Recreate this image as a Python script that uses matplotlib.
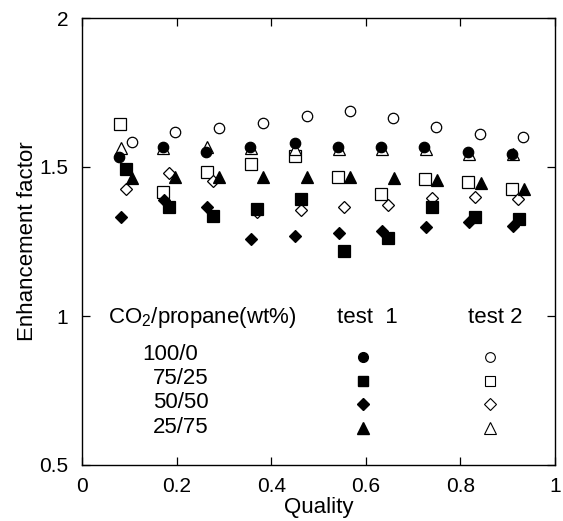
import matplotlib
matplotlib.use("Agg")
import matplotlib.pyplot as plt

plt.rcParams['font.family'] = ['Liberation Sans', 'DejaVu Sans']
plt.rcParams['mathtext.fontset'] = 'custom'
plt.rcParams['mathtext.rm'] = 'Liberation Sans'
plt.rcParams['mathtext.default'] = 'regular'

# ---- data (quality, enhancement factor) ----
t1_100_x = [0.079, 0.172, 0.263, 0.356, 0.450, 0.541, 0.633, 0.724, 0.817, 0.910]
t1_100_y = [1.535, 1.568, 1.551, 1.568, 1.580, 1.568, 1.568, 1.566, 1.551, 1.543]
t2_100_x = [0.105, 0.196, 0.290, 0.382, 0.475, 0.566, 0.657, 0.749, 0.842, 0.933]
t2_100_y = [1.585, 1.618, 1.630, 1.649, 1.671, 1.689, 1.665, 1.633, 1.611, 1.602]

t1_75_x = [0.093, 0.184, 0.277, 0.369, 0.462, 0.554, 0.646, 0.740, 0.830, 0.923]
t1_75_y = [1.493, 1.365, 1.336, 1.359, 1.392, 1.219, 1.263, 1.365, 1.333, 1.325]
t2_75_x = [0.080, 0.172, 0.265, 0.357, 0.450, 0.541, 0.633, 0.726, 0.817, 0.910]
t2_75_y = [1.643, 1.415, 1.484, 1.509, 1.538, 1.467, 1.409, 1.459, 1.449, 1.426]

t1_50_x = [0.082, 0.173, 0.265, 0.358, 0.451, 0.543, 0.635, 0.727, 0.819, 0.911]
t1_50_y = [1.333, 1.389, 1.365, 1.257, 1.268, 1.278, 1.285, 1.298, 1.314, 1.303]
t2_50_x = [0.092, 0.184, 0.276, 0.369, 0.462, 0.553, 0.646, 0.739, 0.830, 0.921]
t2_50_y = [1.425, 1.479, 1.453, 1.348, 1.356, 1.367, 1.372, 1.395, 1.400, 1.392]

t1_25_x = [0.105, 0.196, 0.290, 0.382, 0.475, 0.566, 0.659, 0.750, 0.843, 0.934]
t1_25_y = [1.464, 1.467, 1.467, 1.467, 1.467, 1.465, 1.462, 1.456, 1.447, 1.425]
t2_25_x = [0.082, 0.172, 0.265, 0.358, 0.450, 0.543, 0.635, 0.727, 0.819, 0.911]
t2_25_y = [1.565, 1.565, 1.568, 1.565, 1.559, 1.559, 1.559, 1.559, 1.545, 1.545]

compositions = ['100/0', '75/25', '50/50', '25/75']
markers = ['o', 's', 'D', '^']
msizes = [7.5, 8, 6.5, 9]
legend_msizes = [7, 7.5, 6, 8.5]

x_ticks = [0, 0.2, 0.4, 0.6, 0.8, 1]
x_ticklabels = ['0', '0.2', '0.4', '0.6', '0.8', '1']
y_ticks = [0.5, 1, 1.5, 2]
y_ticklabels = ['0.5', '1', '1.5', '2']

fig = plt.figure(figsize=(5.63, 5.21), dpi=100)
ax = fig.add_axes([82/563, 1-465/521, 473/563, 447/521])

open_series = [(t2_100_x, t2_100_y), (t2_75_x, t2_75_y), (t2_50_x, t2_50_y), (t2_25_x, t2_25_y)]
filled_series = [(t1_100_x, t1_100_y), (t1_75_x, t1_75_y), (t1_50_x, t1_50_y), (t1_25_x, t1_25_y)]

for (xs, ys), m, s in zip(open_series, markers, msizes):
    ax.plot(xs, ys, linestyle='none', marker=m, markersize=s,
            markerfacecolor='white', markeredgecolor='black', markeredgewidth=0.9)
for idx in [2, 1, 3, 0]:
    xs, ys = filled_series[idx]
    ax.plot(xs, ys, linestyle='none', marker=markers[idx], markersize=msizes[idx],
            markerfacecolor='black', markeredgecolor='black', markeredgewidth=0.9)

ax.set_xlim(0, 1)
ax.set_ylim(0.5, 2)
ax.set_xticks(x_ticks)
ax.set_xticklabels(x_ticklabels)
ax.set_yticks(y_ticks)
ax.set_yticklabels(y_ticklabels)
ax.tick_params(direction='in', top=True, right=True, length=6, width=0.9,
               labelsize=15)
ax.tick_params(axis='x', pad=8.5)
ax.tick_params(axis='y', pad=10)
for sp in ax.spines.values():
    sp.set_linewidth(1.0)

ax.set_xlabel('Quality', fontsize=16, labelpad=1)
ax.set_ylabel('Enhancement factor', fontsize=16, labelpad=1)

# ---- in-axes legend ----
tr = ax.transAxes
ax.text(0.055, 0.318, 'CO$_2$/propane(wt%)', transform=tr, fontsize=16, va='baseline', ha='left')
ax.text(0.539, 0.318, 'test  1', transform=tr, fontsize=16, va='baseline', ha='left')
ax.text(0.816, 0.318, 'test 2', transform=tr, fontsize=16, va='baseline', ha='left')

row_text_y = [0.235, 0.181, 0.128, 0.072]
row_mark_y = [0.242, 0.188, 0.136, 0.083]
row_text_x = [0.127, 0.150, 0.150, 0.150]
for i, comp in enumerate(compositions):
    ax.text(row_text_x[i], row_text_y[i], comp, transform=tr, fontsize=16,
            va='baseline', ha='left')
    ax.plot([0.594], [row_mark_y[i]], transform=tr, linestyle='none', marker=markers[i],
            markersize=legend_msizes[i], markerfacecolor='black', markeredgecolor='black',
            clip_on=False)
    ax.plot([0.863], [row_mark_y[i]], transform=tr, linestyle='none', marker=markers[i],
            markersize=legend_msizes[i], markerfacecolor='white', markeredgecolor='black',
            markeredgewidth=0.8, clip_on=False)

fig.savefig('out.png', dpi=100)
